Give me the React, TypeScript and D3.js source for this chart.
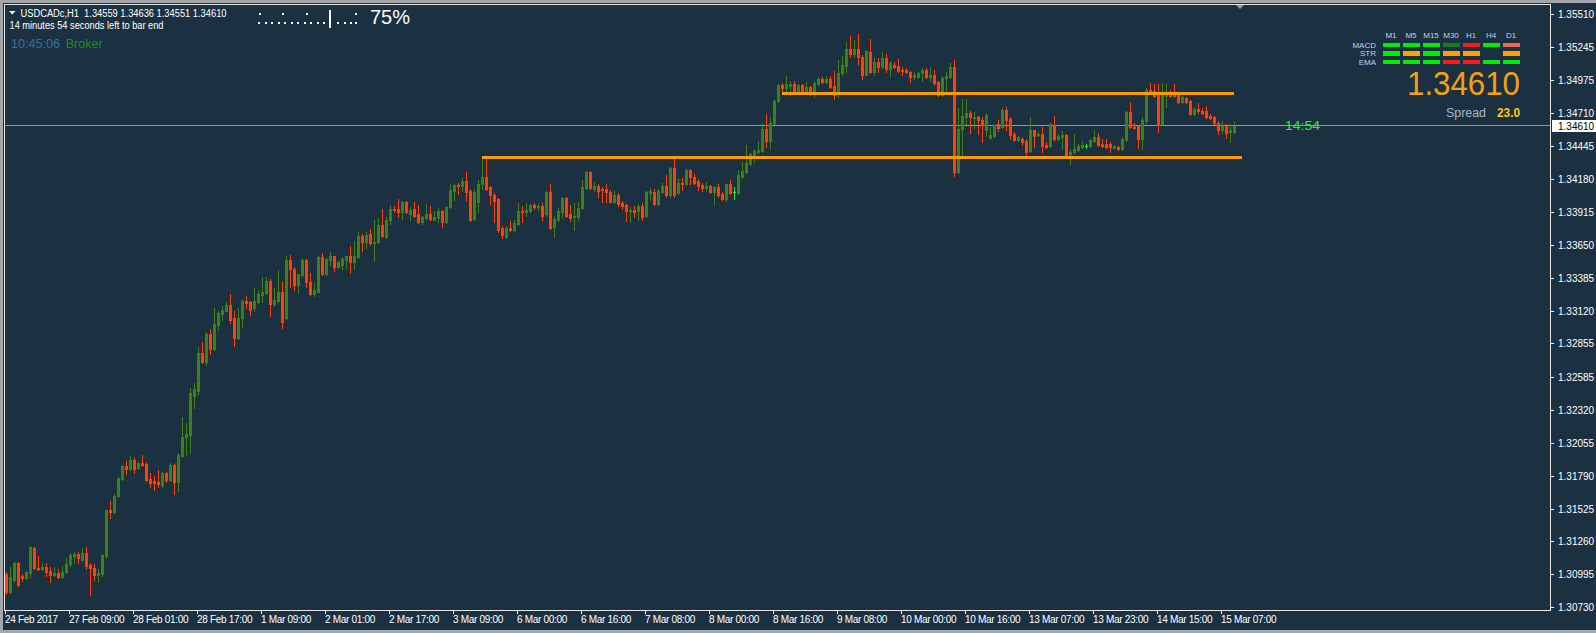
import React from 'react';
import * as d3 from 'd3';

// ---------- DATA (USDCADc, H1) ----------
const open = [
1.30994,1.30849,1.30953,1.31090,1.30978,1.30962,1.31002,1.31203,1.31042,1.31034,
1.31050,1.31018,1.30986,1.31002,1.30970,1.31010,1.31074,1.31139,1.31155,1.31114,
1.31163,1.31066,1.31042,1.30986,1.30994,1.31139,1.31509,1.31493,1.31622,1.31759,
1.31864,1.31847,1.31912,1.31855,1.31888,1.31880,1.31759,1.31743,1.31735,1.31711,
1.31815,1.31751,1.31872,1.31735,1.31944,1.32097,1.32121,1.32428,1.32468,1.32774,
1.32709,1.32927,1.32806,1.33000,1.33088,1.33120,1.33161,1.33056,1.32902,1.33056,
1.33193,1.33185,1.33137,1.33185,1.33241,1.33257,1.33354,1.33169,1.33193,1.33265,
1.33056,1.33523,1.33458,1.33322,1.33402,1.33523,1.33346,1.33249,1.33273,1.33547,
1.33410,1.33523,1.33555,1.33474,1.33490,1.33523,1.33563,1.33507,1.33547,1.33724,
1.33668,1.33740,1.33660,1.33668,1.33805,1.33716,1.33845,1.33934,1.33934,1.33910,
1.33998,1.33894,1.33934,1.33894,1.33829,1.33869,1.33894,1.33853,1.33869,1.33918,
1.33829,1.33950,1.34079,1.34127,1.34119,1.34167,1.34079,1.33861,1.33990,1.34135,
1.34199,1.34111,1.34047,1.34022,1.33781,1.33716,1.33781,1.33765,1.33813,1.33918,
1.33910,1.33918,1.33966,1.33950,1.33958,1.33894,1.34071,1.33789,1.33853,1.33910,
1.34030,1.33894,1.33877,1.33877,1.33942,1.34103,1.34232,1.34095,1.34119,1.34095,
1.34095,1.34071,1.33990,1.34047,1.33982,1.33966,1.33918,1.33926,1.33918,1.33958,
1.33885,1.34063,1.34071,1.33974,1.34071,1.34119,1.34047,1.34264,1.34063,1.34151,
1.34135,1.34248,1.34199,1.34167,1.34127,1.34103,1.34119,1.34071,1.34111,1.34055,
1.34022,1.34135,1.34071,1.34063,1.34199,1.34232,1.34304,1.34368,1.34393,1.34401,
1.34586,1.34482,1.34634,1.34804,1.34933,1.34909,1.34925,1.34941,1.34892,1.34933,
1.34892,1.34917,1.34884,1.34941,1.34981,1.34957,1.34981,1.34925,1.34876,1.35037,
1.35093,1.35230,1.35190,1.35230,1.35158,1.35021,1.35206,1.35045,1.35118,1.35085,
1.35150,1.35069,1.35101,1.35093,1.35061,1.35061,1.35045,1.34997,1.34997,1.35037,
1.35061,1.34997,1.35013,1.34957,1.34852,1.34989,1.34997,1.35085,1.34232,1.34586,
1.34675,1.34707,1.34667,1.34675,1.34651,1.34578,1.34506,1.34522,1.34626,1.34602,
1.34739,1.34659,1.34538,1.34490,1.34498,1.34482,1.34401,1.34570,1.34530,1.34538,
1.34457,1.34449,1.34618,1.34498,1.34514,1.34530,1.34377,1.34393,1.34409,1.34441,
1.34449,1.34449,1.34482,1.34514,1.34465,1.34465,1.34465,1.34433,1.34441,1.34417,
1.34490,1.34715,1.34602,1.34610,1.34498,1.34643,1.34900,1.34892,1.34868,1.34626,
1.34844,1.34868,1.34868,1.34852,1.34796,1.34828,1.34804,1.34699,1.34747,1.34731,
1.34723,1.34683,1.34675,1.34634,1.34570,1.34610,1.34554,1.34559
];
const high = [
1.31010,1.31050,1.31098,1.31098,1.30994,1.31018,1.31219,1.31211,1.31139,1.31090,
1.31090,1.31050,1.31050,1.31034,1.31058,1.31130,1.31163,1.31171,1.31171,1.31203,
1.31211,1.31090,1.31074,1.31034,1.31155,1.31517,1.31582,1.31638,1.31775,1.31872,
1.31904,1.31944,1.31936,1.31896,1.31952,1.31896,1.31807,1.31783,1.31839,1.31823,
1.31823,1.31888,1.31880,1.31976,1.32259,1.32210,1.32492,1.32532,1.32830,1.32870,
1.32943,1.32967,1.33137,1.33112,1.33153,1.33185,1.33249,1.33112,1.33137,1.33209,
1.33233,1.33193,1.33298,1.33289,1.33386,1.33386,1.33370,1.33298,1.33450,1.33346,
1.33563,1.33571,1.33474,1.33418,1.33539,1.33531,1.33426,1.33338,1.33555,1.33587,
1.33539,1.33595,1.33563,1.33515,1.33547,1.33563,1.33636,1.33676,1.33749,1.33740,
1.33749,1.33773,1.33853,1.33869,1.33934,1.33877,1.33966,1.33958,1.34022,1.34006,
1.34006,1.33950,1.33990,1.33966,1.33885,1.33974,1.33958,1.33918,1.33942,1.33926,
1.33958,1.34143,1.34143,1.34151,1.34191,1.34232,1.34095,1.34095,1.34175,1.34352,
1.34368,1.34119,1.34063,1.34030,1.33797,1.33797,1.33837,1.33845,1.33982,1.33958,
1.33982,1.33974,1.33982,1.33974,1.33982,1.34079,1.34143,1.33885,1.33942,1.34038,
1.34038,1.33966,1.33982,1.33990,1.34175,1.34240,1.34240,1.34159,1.34135,1.34111,
1.34135,1.34087,1.34079,1.34063,1.34006,1.33974,1.33950,1.33958,1.33974,1.33982,
1.34079,1.34103,1.34095,1.34095,1.34151,1.34208,1.34272,1.34360,1.34191,1.34191,
1.34256,1.34256,1.34216,1.34183,1.34151,1.34159,1.34127,1.34119,1.34135,1.34071,
1.34143,1.34175,1.34111,1.34248,1.34320,1.34457,1.34385,1.34417,1.34482,1.34634,
1.34699,1.34675,1.34820,1.34941,1.34949,1.35005,1.34965,1.34965,1.34941,1.34941,
1.34957,1.34925,1.34965,1.34997,1.34997,1.35005,1.35005,1.35046,1.35134,1.35174,
1.35279,1.35335,1.35295,1.35351,1.35182,1.35222,1.35303,1.35158,1.35150,1.35206,
1.35190,1.35126,1.35118,1.35142,1.35085,1.35077,1.35053,1.35045,1.35045,1.35077,
1.35077,1.35085,1.35061,1.34965,1.35005,1.35045,1.35110,1.35134,1.34755,1.34820,
1.34820,1.34723,1.34715,1.34683,1.34675,1.34707,1.34602,1.34626,1.34651,1.34755,
1.34763,1.34675,1.34554,1.34522,1.34514,1.34498,1.34675,1.34578,1.34554,1.34602,
1.34474,1.34634,1.34683,1.34538,1.34562,1.34538,1.34417,1.34538,1.34465,1.34482,
1.34465,1.34498,1.34570,1.34546,1.34498,1.34498,1.34474,1.34457,1.34449,1.34514,
1.34723,1.34796,1.34634,1.34618,1.34675,1.34916,1.34949,1.34941,1.34941,1.34949,
1.34941,1.34900,1.34941,1.34860,1.34844,1.34836,1.34812,1.34763,1.34788,1.34755,
1.34771,1.34699,1.34683,1.34643,1.34643,1.34626,1.34626,1.34636
];
const low = [
1.30833,1.30841,1.30937,1.30897,1.30945,1.30958,1.30970,1.31034,1.31026,1.31026,
1.30978,1.30929,1.30978,1.30962,1.30962,1.31002,1.31058,1.31090,1.31090,1.31106,
1.31034,1.30825,1.30953,1.30937,1.30978,1.31130,1.31445,1.31485,1.31614,1.31751,
1.31799,1.31839,1.31807,1.31847,1.31864,1.31743,1.31702,1.31678,1.31702,1.31702,
1.31735,1.31743,1.31638,1.31670,1.31936,1.31960,1.31976,1.32331,1.32444,1.32701,
1.32685,1.32766,1.32798,1.32959,1.33040,1.33112,1.33016,1.32838,1.32894,1.32991,
1.33137,1.33080,1.33112,1.33177,1.33185,1.33249,1.33072,1.33153,1.33185,1.32983,
1.33048,1.33306,1.33289,1.33257,1.33394,1.33306,1.33241,1.33233,1.33265,1.33402,
1.33402,1.33490,1.33442,1.33466,1.33458,1.33466,1.33426,1.33458,1.33539,1.33603,
1.33627,1.33644,1.33515,1.33660,1.33716,1.33700,1.33813,1.33910,1.33877,1.33861,
1.33902,1.33845,1.33877,1.33821,1.33813,1.33861,1.33845,1.33845,1.33829,1.33789,
1.33821,1.33942,1.34014,1.34055,1.34079,1.34006,1.33837,1.33845,1.33910,1.34095,
1.34087,1.33974,1.33829,1.33749,1.33708,1.33708,1.33757,1.33757,1.33805,1.33829,
1.33885,1.33910,1.33934,1.33926,1.33853,1.33885,1.33773,1.33716,1.33837,1.33869,
1.33877,1.33837,1.33765,1.33837,1.33934,1.34095,1.34095,1.34079,1.34038,1.33998,
1.33998,1.33990,1.33982,1.33958,1.33934,1.33837,1.33829,1.33877,1.33853,1.33845,
1.33877,1.34014,1.33966,1.33966,1.34063,1.34038,1.34038,1.34038,1.34055,1.34087,
1.34127,1.34135,1.34135,1.34087,1.34079,1.34079,1.34063,1.33974,1.34038,1.34014,
1.34006,1.34055,1.34022,1.34055,1.34191,1.34224,1.34296,1.34320,1.34385,1.34393,
1.34441,1.34433,1.34626,1.34796,1.34868,1.34860,1.34852,1.34876,1.34860,1.34860,
1.34876,1.34852,1.34836,1.34933,1.34949,1.34949,1.34909,1.34820,1.34836,1.35021,
1.35045,1.35166,1.35158,1.35101,1.34981,1.35013,1.35037,1.35013,1.35045,1.35077,
1.35045,1.35005,1.35077,1.35045,1.35021,1.35037,1.34957,1.34981,1.34989,1.34965,
1.34989,1.34965,1.34933,1.34844,1.34844,1.34892,1.34989,1.34207,1.34224,1.34369,
1.34626,1.34546,1.34594,1.34538,1.34474,1.34522,1.34498,1.34514,1.34562,1.34594,
1.34578,1.34498,1.34482,1.34482,1.34457,1.34369,1.34393,1.34441,1.34522,1.34393,
1.34433,1.34441,1.34490,1.34490,1.34417,1.34361,1.34296,1.34385,1.34401,1.34433,
1.34425,1.34441,1.34474,1.34449,1.34441,1.34433,1.34393,1.34425,1.34409,1.34409,
1.34482,1.34594,1.34586,1.34433,1.34417,1.34634,1.34868,1.34836,1.34554,1.34618,
1.34763,1.34836,1.34836,1.34788,1.34788,1.34788,1.34691,1.34691,1.34707,1.34699,
1.34667,1.34659,1.34626,1.34538,1.34546,1.34506,1.34474,1.34551
];
const close = [
1.30849,1.30970,1.31090,1.30905,1.30962,1.31010,1.31211,1.31042,1.31034,1.31050,
1.31010,1.30986,1.31002,1.30970,1.31010,1.31082,1.31147,1.31155,1.31123,1.31163,
1.31058,1.31042,1.30986,1.31002,1.31147,1.31509,1.31493,1.31622,1.31767,1.31864,
1.31847,1.31912,1.31847,1.31888,1.31872,1.31751,1.31727,1.31727,1.31719,1.31815,
1.31751,1.31872,1.31735,1.31952,1.32097,1.32129,1.32452,1.32484,1.32774,1.32709,
1.32927,1.32806,1.33008,1.33096,1.33128,1.33161,1.33040,1.32902,1.33056,1.33193,
1.33177,1.33128,1.33193,1.33249,1.33265,1.33354,1.33169,1.33201,1.33265,1.33024,
1.33523,1.33458,1.33322,1.33410,1.33523,1.33346,1.33249,1.33289,1.33547,1.33410,
1.33531,1.33555,1.33474,1.33507,1.33531,1.33555,1.33507,1.33555,1.33724,1.33668,
1.33732,1.33660,1.33668,1.33805,1.33724,1.33853,1.33934,1.33926,1.33910,1.33990,
1.33910,1.33926,1.33885,1.33829,1.33877,1.33894,1.33861,1.33877,1.33918,1.33829,
1.33950,1.34087,1.34127,1.34119,1.34167,1.34071,1.33853,1.34071,1.34135,1.34199,
1.34095,1.34047,1.34006,1.33765,1.33732,1.33781,1.33765,1.33821,1.33918,1.33910,
1.33926,1.33966,1.33950,1.33958,1.33885,1.34071,1.33781,1.33861,1.33918,1.34030,
1.33885,1.33869,1.33885,1.33942,1.34111,1.34232,1.34103,1.34119,1.34079,1.34087,
1.34071,1.33998,1.34047,1.33974,1.33958,1.33918,1.33926,1.33910,1.33958,1.33877,
1.34071,1.34079,1.33974,1.34079,1.34119,1.34047,1.34264,1.34047,1.34151,1.34143,
1.34248,1.34199,1.34151,1.34119,1.34103,1.34119,1.34071,1.34111,1.34047,1.34022,
1.34135,1.34063,1.34071,1.34208,1.34240,1.34312,1.34377,1.34401,1.34409,1.34586,
1.34482,1.34634,1.34804,1.34933,1.34909,1.34941,1.34941,1.34892,1.34933,1.34884,
1.34917,1.34884,1.34949,1.34981,1.34957,1.34981,1.34917,1.34852,1.35037,1.35101,
1.35230,1.35190,1.35230,1.35158,1.35021,1.35214,1.35045,1.35118,1.35085,1.35150,
1.35069,1.35110,1.35085,1.35053,1.35053,1.35045,1.34997,1.35013,1.35037,1.35061,
1.34997,1.35013,1.34949,1.34852,1.34989,1.35005,1.35085,1.34232,1.34586,1.34683,
1.34707,1.34675,1.34675,1.34651,1.34618,1.34691,1.34530,1.34618,1.34594,1.34739,
1.34651,1.34530,1.34490,1.34514,1.34474,1.34393,1.34570,1.34522,1.34538,1.34449,
1.34441,1.34626,1.34498,1.34522,1.34530,1.34369,1.34393,1.34417,1.34449,1.34457,
1.34449,1.34490,1.34514,1.34457,1.34449,1.34441,1.34441,1.34449,1.34417,1.34498,
1.34715,1.34602,1.34594,1.34498,1.34651,1.34900,1.34876,1.34844,1.34618,1.34868,
1.34876,1.34844,1.34844,1.34796,1.34836,1.34796,1.34699,1.34747,1.34723,1.34707,
1.34675,1.34667,1.34634,1.34570,1.34610,1.34546,1.34570,1.34610
];

const timeLabels = [
  '24 Feb 2017', '27 Feb 09:00', '28 Feb 01:00', '28 Feb 17:00', '1 Mar 09:00',
  '2 Mar 01:00', '2 Mar 17:00', '3 Mar 09:00', '6 Mar 00:00', '6 Mar 16:00',
  '7 Mar 08:00', '8 Mar 00:00', '8 Mar 16:00', '9 Mar 08:00', '10 Mar 00:00',
  '10 Mar 16:00', '13 Mar 07:00', '13 Mar 23:00', '14 Mar 15:00', '15 Mar 07:00'
];
const barsPerTimeLabel = 16;

const priceTicks = [
  1.35510, 1.35245, 1.34975, 1.34710, 1.34445, 1.34180, 1.33915, 1.33650, 1.33385, 1.33120,
  1.32855, 1.32585, 1.32320, 1.32055, 1.31790, 1.31525, 1.31260, 1.30995, 1.30730
];

// horizontal trend lines: price level, first bar index, last bar index
const levelPrices = [1.34352, 1.34868];
const levelFrom = [119, 194];
const levelTo = [309, 307];

const symbolName = 'USDCADc,H1';
const countdownText = '14 minutes 54 seconds left to bar end';
const countdownShort = '14:54';
const clockText = '10:45:06';
const progressText = '75%';
const spreadValue = 23.0;

const tfLabels = ['M1', 'M5', 'M15', 'M30', 'H1', 'H4', 'D1'];
const rowLabels = ['MACD', 'STR', 'EMA'];
const macdSignals = ['up', 'up', 'up', 'weak', 'down', 'up', 'soft'];
const strSignals = ['up', 'mid', 'up', 'mid', 'mid', 'none', 'mid'];
const emaSignals = ['up', 'up', 'up', 'down', 'down', 'up', 'up'];

// ---------- STYLE ----------
const BG = '#1b3142';
const BULL = '#3f7f17';
const BEAR = '#ff4000';
const DOJI = '#2ee62e';
const ORANGE = '#ff9a00';
const FONT = '"Liberation Sans", Arial, sans-serif';
const sigColor: Record<string, string> = {
  up: '#00ee00', weak: '#1a7a1a', down: '#ff1a1a', soft: '#f26651', mid: '#ffa200', none: 'none'
};

export default function App() {
  const W = 1596, H = 633;
  const left = 4, top = 4, right = 1550, bottom = 610;
  const x = d3.scaleLinear().domain([0, 1]).range([6, 10]);
  const y = d3.scaleLinear().domain([1.30730, 1.35510]).range([607.2, 13.8]);
  const lastClose = close[close.length - 1];
  const headerText = `${symbolName}  ${open[open.length - 1].toFixed(5)} ${high[high.length - 1].toFixed(5)} ${low[low.length - 1].toFixed(5)} ${lastClose.toFixed(5)}`;
  const lastY = Math.floor(y(lastClose)) + 0.5;

  const signalRows = [macdSignals, strSignals, emaSignals];
  const rowY = [42.5, 51, 59.5];

  const dotsBottom = d3.range(11).map(k => 258 + k * 6.5).concat([337, 343.5, 350]);
  const dotsTop = [259, 282, 306];

  return (
    <svg width={W} height={H} style={{ position: 'absolute', left: 0, top: 0, display: 'block' }}
      xmlns="http://www.w3.org/2000/svg" fontFamily={FONT}>
      <defs>
        <clipPath id="plot">
          <rect x={left + 1} y={top + 1} width={right - left - 1} height={bottom - top - 1} />
        </clipPath>
      </defs>
      <rect x={0} y={0} width={W} height={H} fill={BG} />
      {/* window frame */}
      <rect x={0} y={0} width={W} height={3} fill="#a3a7ab" />
      <rect x={0} y={0} width={3} height={H} fill="#a3a7ab" />
      <rect x={0} y={H - 3} width={W} height={3} fill="#a3a7ab" />

      {/* plot border */}
      <rect x={left + 0.5} y={top + 0.5} width={right - left} height={bottom - top} fill="none" stroke="#e6e6e6" strokeWidth={1} shapeRendering="crispEdges" />

      <g clipPath="url(#plot)" shapeRendering="crispEdges">
        {/* current price line */}
        <line x1={left} x2={right} y1={lastY} y2={lastY} stroke="#8c9ba8" strokeWidth={1} />
        {/* candles */}
        {open.map((o, i) => {
          const c = close[i];
          const px = x(i);
          const col = c > o ? BULL : c < o ? BEAR : DOJI;
          const yO = Math.round(y(o)), yC = Math.round(y(c));
          const yH = Math.round(y(high[i])), yL = Math.round(y(low[i]));
          const bt = Math.min(yO, yC);
          const bh = Math.abs(yO - yC) + 1;
          return (
            <g key={i} fill={col}>
              <rect x={px} y={yH} width={1} height={Math.max(1, yL - yH + 1)} />
              <rect x={px - 1} y={bt} width={3} height={c === o ? 1 : bh} />
            </g>
          );
        })}
        {/* horizontal levels */}
        {levelPrices.map((p, k) => (
          <line key={k} x1={x(levelFrom[k])} x2={x(levelTo[k])} y1={Math.floor(y(p)) + 0.5} y2={Math.floor(y(p)) + 0.5}
            stroke={ORANGE} strokeWidth={3} />
        ))}
      </g>

      {/* price axis */}
      <g fontSize={10} fill="#ffffff">
        {priceTicks.map((p, k) => {
          const yy = Math.round(y(p)) + 0.5;
          return (
            <g key={k}>
              <line x1={right} x2={right + 4} y1={yy} y2={yy} stroke="#ffffff" shapeRendering="crispEdges" />
              <text x={1558} y={yy} dy="0.35em">{p.toFixed(5)}</text>
            </g>
          );
        })}
        <rect x={1552} y={120} width={44} height={12} fill="#ffffff" />
        <text x={1558} y={126} dy="0.35em" fill="#000000">{lastClose.toFixed(5)}</text>
      </g>

      {/* time axis */}
      <g fontSize={10} fill="#ffffff">
        {timeLabels.map((t, k) => {
          const tx = x(k * barsPerTimeLabel) - 1 + 0.5;
          return (
            <g key={k}>
              <line x1={tx} x2={tx} y1={bottom} y2={bottom + 4} stroke="#ffffff" shapeRendering="crispEdges" />
              <text x={tx - 0.5} y={623} letterSpacing={-0.3}>{t}</text>
            </g>
          );
        })}
      </g>

      {/* chart shift marker */}
      <polygon points="1236,5 1244,5 1240,9" fill="#8c98a2" />

      {/* top-left info */}
      <polygon points="9,11 15.5,11 12.25,14.5" fill="#ffffff" />
      <text x={20.5} y={17} fontSize={10} fill="#ffffff" textLength={206} lengthAdjust="spacingAndGlyphs" style={{ whiteSpace: 'pre' }}>{headerText}</text>
      <text x={9.5} y={29} fontSize={10} fill="#ffffff" textLength={154} lengthAdjust="spacingAndGlyphs">{countdownText}</text>
      <text x={11} y={48} fontSize={13} fill="#3b6f9a" textLength={49} lengthAdjust="spacingAndGlyphs">{clockText}</text>
      <text x={65.7} y={48} fontSize={13} fill="#1f8b1f" textLength={37} lengthAdjust="spacingAndGlyphs">Broker</text>

      {/* progress dots */}
      <g fill="#ffffff" shapeRendering="crispEdges">
        {dotsBottom.map((dx, k) => <rect key={'b' + k} x={Math.round(dx)} y={22} width={2} height={2} />)}
        {dotsTop.map((dx, k) => <rect key={'t' + k} x={dx} y={13} width={2} height={2} />)}
        <rect x={355} y={13} width={2} height={2} />
        <rect x={355} y={22} width={2} height={2} />
        <rect x={329} y={10} width={2} height={18} />
      </g>
      <text x={370} y={24.3} fontSize={21} fill="#ffffff" textLength={40} lengthAdjust="spacingAndGlyphs">{progressText}</text>

      {/* countdown on price line */}
      <text x={1285} y={130} fontSize={12} fill="#33ea33" textLength={35} lengthAdjust="spacingAndGlyphs">{countdownShort}</text>

      {/* signal panel */}
      <g fontSize={8} fill="#c0d4e6">
        {tfLabels.map((t, k) => (
          <text key={t} x={1391 + 20 * k} y={38} textAnchor="middle">{t}</text>
        ))}
        {rowLabels.map((r, k) => (
          <text key={r} x={1376} y={rowY[k] + 5} textAnchor="end">{r}</text>
        ))}
      </g>
      <g shapeRendering="crispEdges">
        {signalRows.map((row, r) =>
          row.map((s, k) => s === 'none' ? null : (
            <rect key={r + '-' + k} x={1383 + 20 * k} y={rowY[r]} width={17} height={4.5} fill={sigColor[s]} />
          ))
        )}
      </g>
      <text x={1520} y={95} fontSize={34} fill="#f5a00f" textAnchor="end" textLength={113} lengthAdjust="spacingAndGlyphs">{lastClose.toFixed(5)}</text>
      <text x={1446} y={116.7} fontSize={12} fill="#a8b6c6" textLength={40} lengthAdjust="spacingAndGlyphs">Spread</text>
      <text x={1520} y={117} fontSize={13} fontWeight="bold" fill="#ffcc00" textAnchor="end" textLength={23} lengthAdjust="spacingAndGlyphs">{spreadValue.toFixed(1)}</text>
    </svg>
  );
}
